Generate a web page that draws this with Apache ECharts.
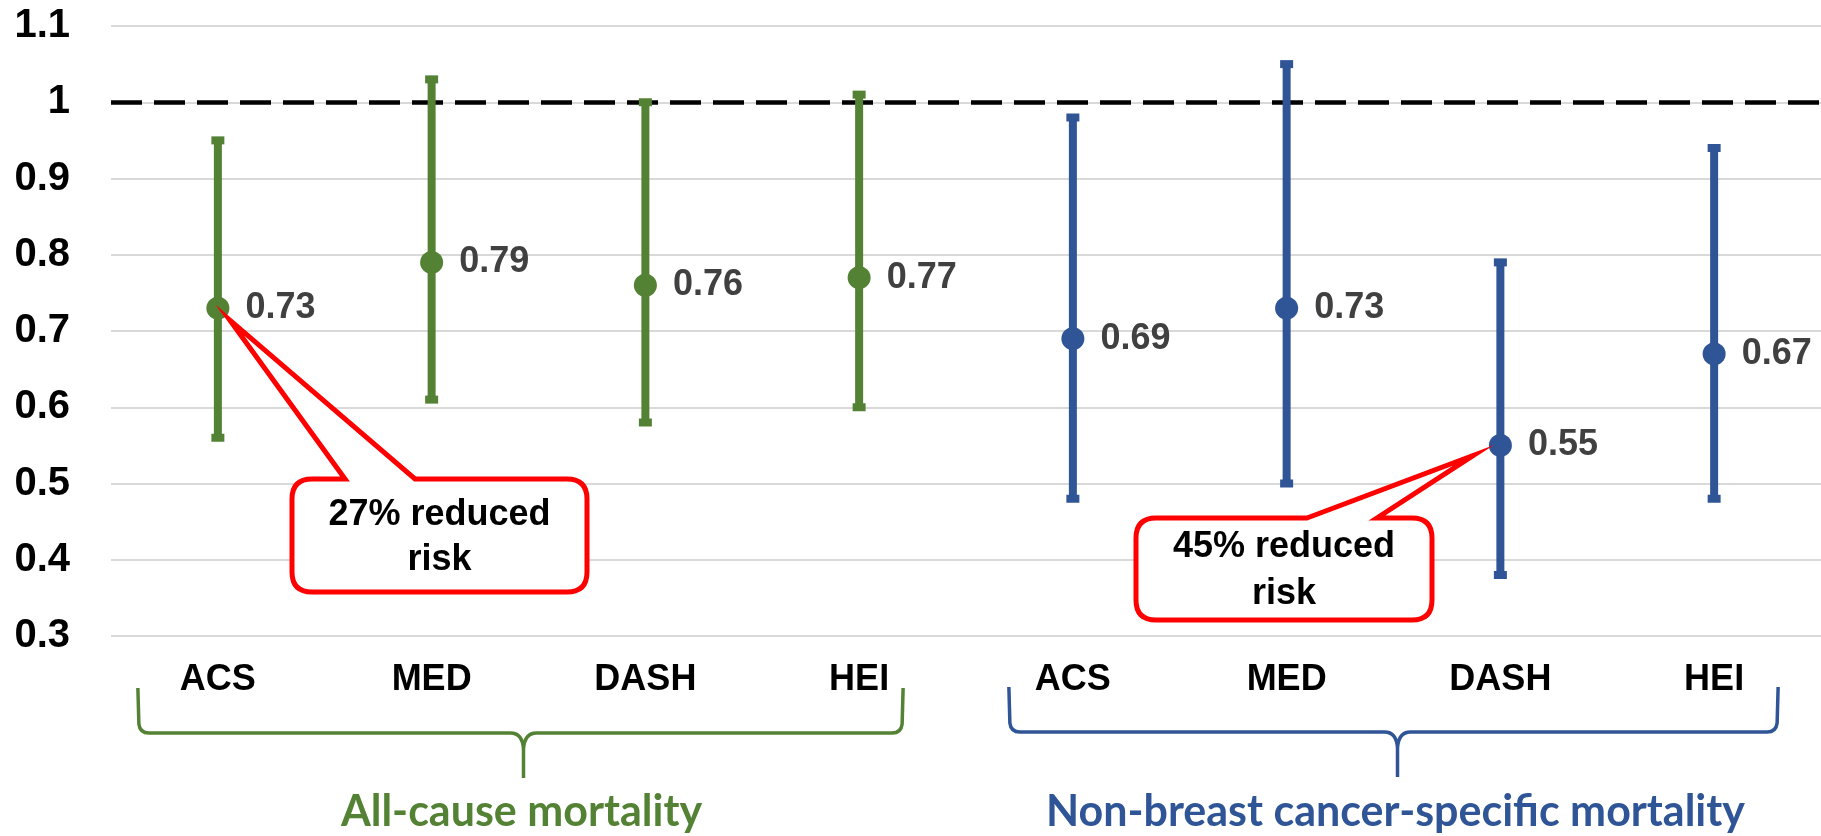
<!DOCTYPE html>
<html>
<head>
<meta charset="utf-8">
<script src="https://cdn.jsdelivr.net/npm/echarts@6/dist/echarts.min.js"></script>
<style>
  html, body { margin: 0; padding: 0; background: #ffffff; }
  #chart { width: 1821px; height: 836px; }
</style>
</head>
<body>
<div id="chart"></div>
<script>
// ---- data ----
const dietIndices = ['ACS', 'MED', 'DASH', 'HEI'];
const allCauseHR    = [0.73, 0.79, 0.76, 0.77];
const allCauseLower = [0.56, 0.61, 0.58, 0.60];
const allCauseUpper = [0.95, 1.03, 1.00, 1.01];
const nonBreastHR    = [0.69, 0.73, 0.55, 0.67];
const nonBreastLower = [0.48, 0.50, 0.38, 0.48];
const nonBreastUpper = [0.98, 1.05, 0.79, 0.94];
const yTicks = { min: 0.3, max: 1.1, interval: 0.1 };
const referenceHR = 1;
const groupTitles = ['All-cause mortality', 'Non-breast cancer-specific mortality'];
const callouts = ['27% reduced\nrisk', '45% reduced\nrisk'];

// ---- build ----
const GREEN = '#548235';
const BLUE = '#2F5597';
const FONT = "'Liberation Sans', Arial, sans-serif";
const TITLE_FONT = "Lato, 'Open Sans', sans-serif";
const categories = dietIndices.concat(dietIndices);
const nG = dietIndices.length;

function errData(lo, hi, offset) {
  return lo.map((v, i) => [i + offset, v, hi[i]]);
}
function ptData(hr, offset) {
  return hr.map((v, i) => [i + offset, v]);
}
function errorBarSeries(data, color) {
  return {
    type: 'custom',
    data: data,
    encode: { x: 0, y: [1, 2] },
    z: 3,
    silent: true,
    renderItem: function (params, api) {
      const x = api.value(0);
      const pLo = api.coord([x, api.value(1)]);
      const pHi = api.coord([x, api.value(2)]);
      return {
        type: 'group',
        children: [
          { type: 'line', shape: { x1: pLo[0], y1: pLo[1], x2: pHi[0], y2: pHi[1] },
            style: { stroke: color, lineWidth: 8 } },
          { type: 'rect', shape: { x: pHi[0] - 6.5, y: pHi[1] - 4, width: 13, height: 8 },
            style: { fill: color } },
          { type: 'rect', shape: { x: pLo[0] - 6.5, y: pLo[1] - 4, width: 13, height: 8 },
            style: { fill: color } }
        ]
      };
    }
  };
}
function pointSeries(data, color) {
  return {
    type: 'scatter',
    data: data,
    symbol: 'circle',
    symbolSize: 23,
    z: 4,
    itemStyle: { color: color, opacity: 1 },
    label: {
      show: true,
      position: 'right',
      distance: 16,
      color: '#404040',
      fontFamily: FONT,
      fontWeight: 'bold',
      fontSize: 36,
      formatter: p => p.value[1].toFixed(2)
    }
  };
}

const chart = echarts.init(document.getElementById('chart'), null, { renderer: 'canvas' });

const greenPts = pointSeries(ptData(allCauseHR, 0), GREEN);
greenPts.markLine = {
  silent: true,
  symbol: 'none',
  z: 2,
  label: { show: false },
  lineStyle: { color: '#000000', width: 4.5, type: [31, 12], opacity: 1 },
  emphasis: { disabled: true },
  data: [{ yAxis: referenceHR }]
};

chart.setOption({
  animation: false,
  backgroundColor: '#ffffff',
  grid: { left: 111, right: 0, top: 26, bottom: 200 },
  xAxis: {
    type: 'category',
    data: categories,
    boundaryGap: true,
    axisLine: { show: false },
    axisTick: { show: false },
    splitLine: { show: false },
    axisLabel: {
      interval: 0,
      margin: 26,
      color: '#000000',
      fontFamily: FONT,
      fontWeight: 'bold',
      fontSize: 36,
      lineHeight: 36
    }
  },
  yAxis: {
    type: 'value',
    min: yTicks.min,
    max: yTicks.max,
    interval: yTicks.interval,
    axisLine: { show: false },
    axisTick: { show: false },
    splitLine: { show: true, lineStyle: { color: '#D9D9D9', width: 2 } },
    axisLabel: {
      margin: 41,
      color: '#000000',
      fontFamily: FONT,
      fontWeight: 'bold',
      fontSize: 40
    }
  },
  series: [
    errorBarSeries(errData(allCauseLower, allCauseUpper, 0), GREEN),
    errorBarSeries(errData(nonBreastLower, nonBreastUpper, nG), BLUE),
    greenPts,
    pointSeries(ptData(nonBreastHR, nG), BLUE)
  ]
});

// ---- decorations (callouts, braces, group titles) ----
function px(idx, val) {
  return chart.convertToPixel({ gridIndex: 0 }, [idx, val]);
}
function calloutPath(x0, y0, x1, y1, r, bl, br, tx, ty) {
  return 'M' + bl + ' ' + y0 + ' L' + tx + ' ' + ty + ' L' + br + ' ' + y0 +
    ' L' + (x1 - r) + ' ' + y0 + ' Q' + x1 + ' ' + y0 + ' ' + x1 + ' ' + (y0 + r) +
    ' L' + x1 + ' ' + (y1 - r) + ' Q' + x1 + ' ' + y1 + ' ' + (x1 - r) + ' ' + y1 +
    ' L' + (x0 + r) + ' ' + y1 + ' Q' + x0 + ' ' + y1 + ' ' + x0 + ' ' + (y1 - r) +
    ' L' + x0 + ' ' + (y0 + r) + ' Q' + x0 + ' ' + y0 + ' ' + (x0 + r) + ' ' + y0 + ' Z';
}
function bracePath(L, R, M, top, hy, bottom) {
  const r = 9, c = 13;
  return 'M' + L + ' ' + top + ' L' + (L + 1) + ' ' + (hy - r) +
    ' Q' + (L + 2) + ' ' + hy + ' ' + (L + 2 + r) + ' ' + hy +
    ' L' + (M - c) + ' ' + hy +
    ' Q' + (M - 1) + ' ' + hy + ' ' + M + ' ' + (hy + 16) +
    ' L' + M + ' ' + bottom +
    ' M' + M + ' ' + (hy + 16) +
    ' Q' + (M + 1) + ' ' + hy + ' ' + (M + c) + ' ' + hy +
    ' L' + (R - 2 - r) + ' ' + hy +
    ' Q' + (R - 2) + ' ' + hy + ' ' + (R - 1) + ' ' + (hy - r) +
    ' L' + R + ' ' + top;
}

const p1 = px(0, allCauseHR[0]);
const p2 = px(nG + 2, nonBreastHR[2]);
const g0 = px(0, yTicks.min), g3 = px(nG - 1, yTicks.min);
const b0 = px(nG, yTicks.min), b3 = px(2 * nG - 1, yTicks.min);

const box1 = { x0: 292, y0: 479, x1: 587, y1: 592 };
const box2 = { x0: 1136, y0: 518, x1: 1432, y1: 620 };

const gL = g0[0] - 80, gR = g3[0] + 44, gM = (gL + gR) / 2 + 3;
const bL = b0[0] - 64, bR = b3[0] + 64, bM = (bL + bR) / 2 + 4;

const decorChildren = [
  { type: 'path', z2: 10,
    shape: { pathData: calloutPath(box1.x0, box1.y0, box1.x1, box1.y1, 20, 345, 415, p1[0] + 12, p1[1] + 12) },
    style: { fill: '#ffffff', stroke: '#FF0000', lineWidth: 5 } },
  { type: 'text', z2: 11,
    style: { text: callouts[0], x: (box1.x0 + box1.x1) / 2, y: (box1.y0 + box1.y1) / 2 + 2,
      align: 'center', verticalAlign: 'middle', lineHeight: 45,
      fill: '#000000', fontFamily: FONT, fontWeight: 'bold', fontSize: 36 } },
  { type: 'path', z2: 10,
    shape: { pathData: calloutPath(box2.x0, box2.y0, box2.x1, box2.y1, 20, 1307, 1377, p2[0] - 27, p2[1] + 10) },
    style: { fill: '#ffffff', stroke: '#FF0000', lineWidth: 5 } },
  { type: 'text', z2: 11,
    style: { text: callouts[1], x: (box2.x0 + box2.x1) / 2, y: (box2.y0 + box2.y1) / 2 + 2,
      align: 'center', verticalAlign: 'middle', lineHeight: 47,
      fill: '#000000', fontFamily: FONT, fontWeight: 'bold', fontSize: 36 } },
  { type: 'path', z2: 10,
    shape: { pathData: bracePath(gL, gR, gM, 688, 733, 778) },
    style: { fill: null, stroke: GREEN, lineWidth: 3.5 } },
  { type: 'path', z2: 10,
    shape: { pathData: bracePath(bL, bR, bM, 687, 732, 777) },
    style: { fill: null, stroke: BLUE, lineWidth: 3.5 } },
  { type: 'text', z2: 11,
    style: { text: groupTitles[0], x: gM - 2, y: 812, align: 'center', verticalAlign: 'middle',
      fill: GREEN, fontFamily: TITLE_FONT, fontWeight: 'bold', fontSize: 43 } },
  { type: 'text', z2: 11,
    style: { text: groupTitles[1], x: bM - 2, y: 812, align: 'center', verticalAlign: 'middle',
      fill: BLUE, fontFamily: TITLE_FONT, fontWeight: 'bold', fontSize: 43 } }
];

chart.setOption({
  series: [{}, {}, {}, {}, {
    type: 'custom',
    coordinateSystem: 'none',
    silent: true,
    z: 10,
    data: [[0]],
    renderItem: function () {
      return { type: 'group', children: decorChildren };
    }
  }]
});
</script>
</body>
</html>
